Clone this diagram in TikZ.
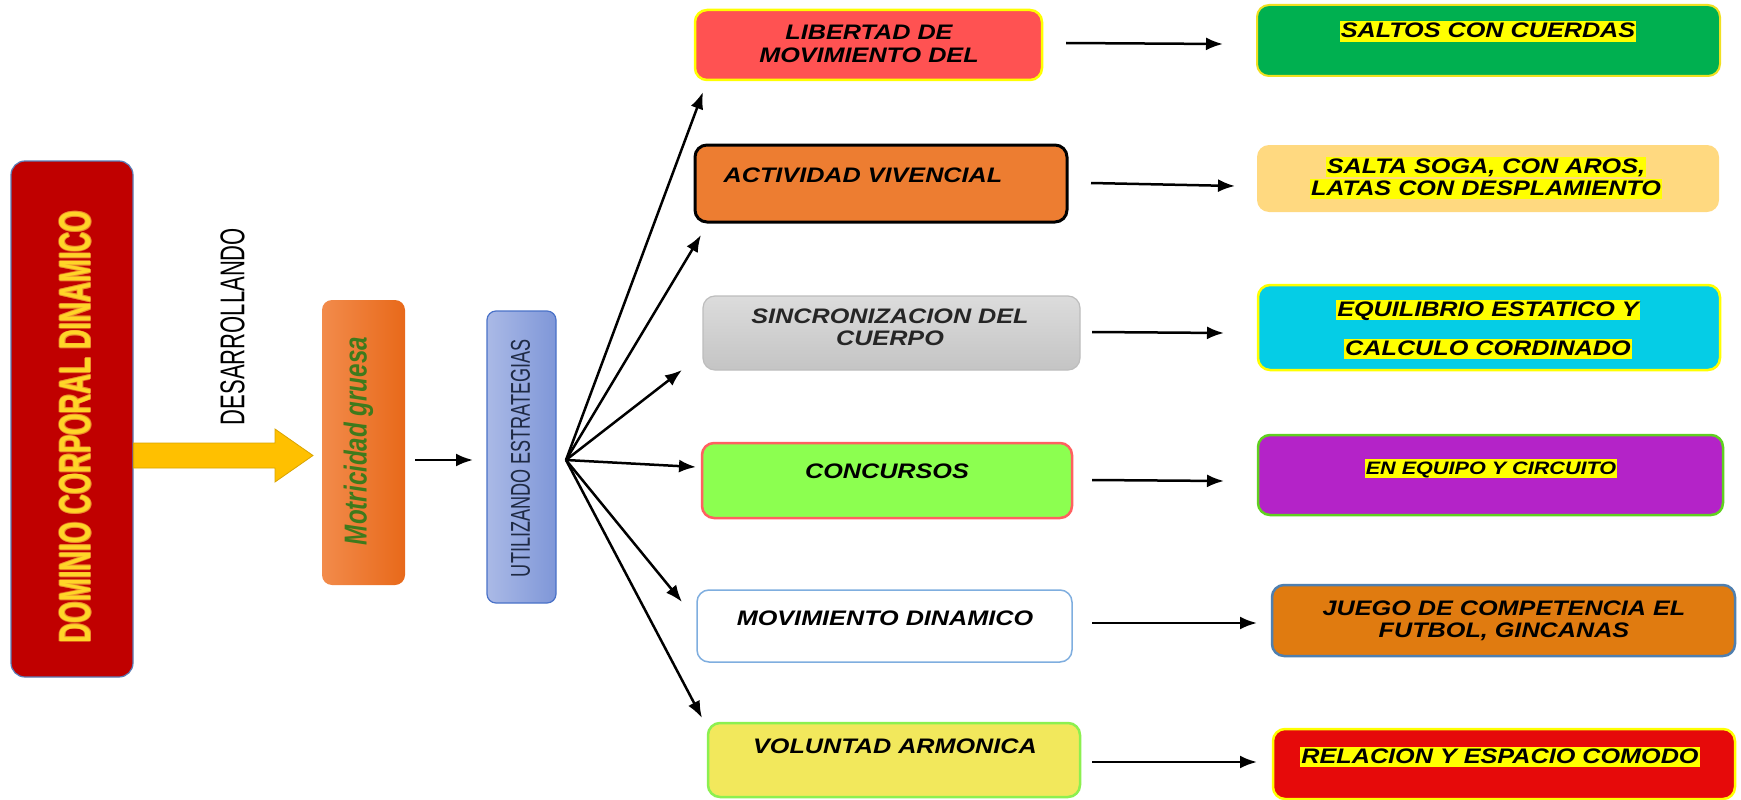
\documentclass[tikz,border=0pt]{standalone}
\usepackage{fontspec}
\usepackage{graphicx}
\setmainfont{Liberation Sans}
\newfontfamily\bxf{Liberation Sans}[FakeStretch=1.2]
\usetikzlibrary{arrows.meta,calc}
\definecolor{domred}{HTML}{C00000}
\definecolor{domtxt}{HTML}{FFD528}
\definecolor{domglow}{HTML}{F09A30}
\definecolor{domline}{HTML}{5A7DB8}
\definecolor{blockarrow}{HTML}{FFC000}
\definecolor{blockline}{HTML}{D9A400}
\definecolor{motL}{HTML}{F28B4B}
\definecolor{motR}{HTML}{E8691A}
\definecolor{mottxt}{HTML}{3F7A1C}
\definecolor{utiL}{HTML}{AAB9E6}
\definecolor{utiR}{HTML}{7F97D8}
\definecolor{utiline}{HTML}{4A72C8}
\definecolor{utitxt}{HTML}{1F2A44}
\definecolor{cLib}{HTML}{FF5252}
\definecolor{cAct}{HTML}{ED7D31}
\definecolor{cSinT}{HTML}{DCDCDC}
\definecolor{cSinB}{HTML}{C4C4C4}
\definecolor{cSinL}{HTML}{BDBDBD}
\definecolor{cCon}{HTML}{8CFF50}
\definecolor{cConL}{HTML}{FF6060}
\definecolor{cMovL}{HTML}{7FAEDF}
\definecolor{cVol}{HTML}{F2E85C}
\definecolor{cVolL}{HTML}{8CF050}
\definecolor{cSal}{HTML}{00B050}
\definecolor{cSalL}{HTML}{F0E020}
\definecolor{cSog}{HTML}{FFD980}
\definecolor{cEqu}{HTML}{05CDE6}
\definecolor{cCir}{HTML}{B423C8}
\definecolor{cCirL}{HTML}{60D020}
\definecolor{cJue}{HTML}{E07B10}
\definecolor{cJueL}{HTML}{4F7FAF}
\definecolor{cRel}{HTML}{E60A0A}
\definecolor{hlyellow}{HTML}{FFFF00}
\tikzset{
  box/.style={rectangle, rounded corners=12pt, inner sep=0pt},
  lbl/.style={anchor=base, inner sep=0pt, font={\bxf\bfseries\itshape\fontsize{21pt}{23pt}\selectfont}},
  lblsmall/.style={lbl, font={\bxf\bfseries\itshape\fontsize{18pt}{20pt}\selectfont}},
  hl/.style={fill=hlyellow, inner xsep=1pt, inner ysep=0pt, text height=16.5pt, text depth=4pt},
  arr/.style={line width=2.5pt, -{Latex[length=17pt,width=13pt]}},
}
\newcommand{\domtext}{\resizebox{432pt}{31pt}{\bfseries DOMINIO CORPORAL DINAMICO}}
\begin{document}
\begin{tikzpicture}[x=1pt,y=-1pt]
\fill[white] (0,0) rectangle (1741,800);
\useasboundingbox (0,0) rectangle (1741,800);

% left column
\node[box, rounded corners=14pt, fill=domred, draw=domline, line width=1.2pt,
      minimum width=122pt, minimum height=516pt] (dom) at (72,419) {};
\foreach \dx/\dy in {0.9/0,-0.9/0,0/0.9,0/-0.9,0.65/0.65,-0.65/0.65,0.65/-0.65,-0.65/-0.65}
  \node[rotate=90, inner sep=0pt, text=domglow, opacity=0.6] at ($(75.5,427)+(\dx,\dy)$) {\domtext};
\node[rotate=90, inner sep=0pt, text=domtxt] (domt) at (75.5,427) {\domtext};

\draw[fill=blockarrow, draw=blockline, line width=0.8pt]
  (dom.east |- 0,443) -- (275,443) -- (275,429) -- (313,455.5) -- (275,482) -- (275,468) -- (dom.east |- 0,468) -- cycle;

\node[rotate=90, inner sep=0pt] (des) at (232.5,326.5)
  {\resizebox{197pt}{24pt}{DESARROLLANDO}};

\node[box, rounded corners=10pt, left color=motL, right color=motR,
      minimum width=83pt, minimum height=285pt] (mot) at (363.5,442.5) {};
\node[rotate=90, anchor=base, inner sep=0pt, text=mottxt] (mott) at (366.5,441)
  {\resizebox{208pt}{23pt}{\bfseries\itshape Motricidad gruesa}};

\node[box, rounded corners=9pt, left color=utiL, right color=utiR, draw=utiline, line width=1.2pt,
      minimum width=69pt, minimum height=292pt] (uti) at (521.5,457) {};
\node[rotate=90, inner sep=0pt, text=utitxt] (utit) at (520.5,458)
  {\resizebox{238pt}{19pt}{UTILIZANDO ESTRATEGIAS}};

\coordinate (m1) at (415,460);
\coordinate (m2) at (473,460);
\draw[arr] (m1) -- (m2);

% middle column
\node[box, fill=cLib, draw=hlyellow, line width=2.5pt, minimum width=347pt, minimum height=70pt] (l1) at (868.5,45) {};
\node[lbl] (l1a) at (869,40) {LIBERTAD DE};
\node[lbl] (l1b) at (869,63) {MOVIMIENTO DEL};

\node[box, fill=cAct, draw=black, line width=3pt, minimum width=372pt, minimum height=77pt] (l2) at (881,183.5) {};
\node[lbl] (l2a) at (863,182) {ACTIVIDAD VIVENCIAL};

\node[box, top color=cSinT, bottom color=cSinB, draw=cSinL, line width=1.2pt, minimum width=377pt, minimum height=74pt] (l3) at (891.5,333) {};
\node[lbl, text=black!85] (l3a) at (890,323) {SINCRONIZACION DEL};
\node[lbl, text=black!85] (l3b) at (890,345) {CUERPO};

\node[box, fill=cCon, draw=cConL, line width=2.5pt, minimum width=370pt, minimum height=75pt] (l4) at (887,480.5) {};
\node[lbl] (l4a) at (887,478) {CONCURSOS};

\node[box, fill=white, draw=cMovL, line width=1.5pt, minimum width=375pt, minimum height=72pt] (l5) at (884.5,626) {};
\node[lbl] (l5a) at (885,625) {MOVIMIENTO DINAMICO};

\node[box, fill=cVol, draw=cVolL, line width=2.5pt, minimum width=372pt, minimum height=74pt] (l6) at (894,760) {};
\node[lbl] (l6a) at (895,753) {VOLUNTAD ARMONICA};

% fan arrows
\coordinate (fan) at (566,460);
\coordinate (f1) at (703,92);
\coordinate (f2) at (701,235);
\coordinate (f3) at (682,370);
\coordinate (f4) at (696,467);
\coordinate (f5) at (682,602);
\coordinate (f6) at (702,718);
\foreach \t in {f1,f2,f3,f4,f5,f6} \draw[arr] (fan) -- (\t);

% right column
\node[box, fill=cSal, draw=cSalL, line width=2pt, minimum width=463pt, minimum height=71pt] (r1) at (1488.5,40.5) {};
\node[lbl, hl] (r1a) at (1488,38) {SALTOS CON CUERDAS};

\node[box, fill=cSog, minimum width=462pt, minimum height=67pt] (r2) at (1488,178.5) {};
\node[lbl, hl] (r2a) at (1486,173) {SALTA SOGA, CON AROS,};
\node[lbl, hl] (r2b) at (1486,195) {LATAS CON DESPLAMIENTO};

\node[box, fill=cEqu, draw=hlyellow, line width=2.5pt, minimum width=462pt, minimum height=85pt] (r3) at (1489,327.5) {};
\node[lbl, hl] (r3a) at (1488,316) {EQUILIBRIO ESTATICO Y};
\node[lbl, hl] (r3b) at (1488,355) {CALCULO CORDINADO};

\node[box, fill=cCir, draw=cCirL, line width=2.5pt, minimum width=465pt, minimum height=80pt] (r4) at (1490.5,475) {};
\node[lblsmall, hl, text height=15pt] (r4a) at (1491,474) {EN EQUIPO Y CIRCUITO};

\node[box, fill=cJue, draw=cJueL, line width=2.5pt, minimum width=463pt, minimum height=71pt] (r5) at (1503.5,620.5) {};
\node[lbl] (r5a) at (1504,615) {JUEGO DE COMPETENCIA EL};
\node[lbl] (r5b) at (1504,637) {FUTBOL, GINCANAS};

\node[box, fill=cRel, draw=hlyellow, line width=2.5pt, minimum width=462pt, minimum height=70pt] (r6) at (1504,764) {};
\node[lbl, hl] (r6a) at (1500,763) {RELACION Y ESPACIO COMODO};

% horizontal arrows
\coordinate (h1s) at (1066,43);  \coordinate (h1e) at (1223,44);
\coordinate (h2s) at (1091,183); \coordinate (h2e) at (1235,186);
\coordinate (h3s) at (1092,332); \coordinate (h3e) at (1224,333);
\coordinate (h4s) at (1092,480); \coordinate (h4e) at (1224,481);
\coordinate (h5s) at (1092,623); \coordinate (h5e) at (1257,623);
\coordinate (h6s) at (1092,762); \coordinate (h6e) at (1257,762);
\foreach \i in {1,...,6} \draw[arr] (h\i s) -- (h\i e);
\end{tikzpicture}
\end{document}
